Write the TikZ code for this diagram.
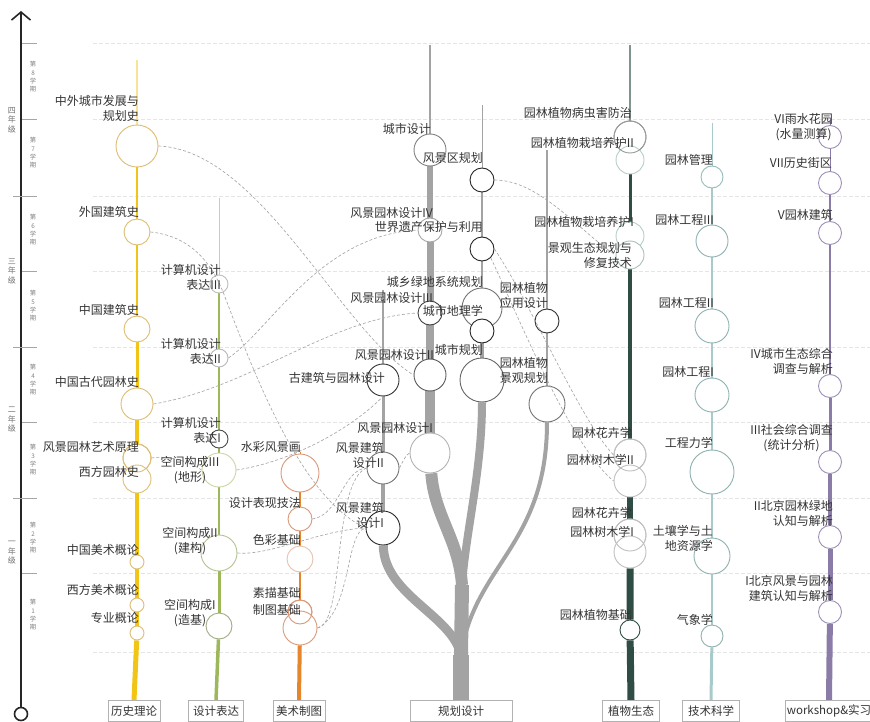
\documentclass[tikz,border=0pt]{standalone}
\usepackage{fontspec}
\setmainfont{Noto Sans CJK SC}
\usetikzlibrary{arrows.meta,backgrounds}

\definecolor{txt}{HTML}{333333}
\definecolor{lsline}{HTML}{F2C416}
\definecolor{lscirc}{HTML}{DDBE72}
\definecolor{sjline}{HTML}{9DB85A}
\definecolor{sjcirc}{HTML}{C9D7A2}
\definecolor{msline}{HTML}{E5862C}
\definecolor{mscirc}{HTML}{D99878}
\definecolor{ghline}{HTML}{A3A3A3}
\definecolor{zwline}{HTML}{2F4D45}
\definecolor{zwcirc}{HTML}{B4CFC8}
\definecolor{jsline}{HTML}{A9CACA}
\definecolor{jscirc}{HTML}{93BDBD}
\definecolor{wsline}{HTML}{8A7CA6}
\definecolor{wscirc}{HTML}{9D90B8}

\begin{document}
\begin{tikzpicture}[x=1pt,y=-1pt,
  ccl/.style={circle,fill=white,inner sep=0pt,line width=0.9pt,minimum size=#1},
  lab/.style={anchor=east,align=right,inner sep=0pt,text=txt,font=\fontsize{12}{15}\selectfont},
  catbox/.style={draw=gray!60,fill=white,inner sep=2pt,minimum height=21pt,text=txt,font=\fontsize{11.5}{13}\selectfont},
  link/.style={draw=gray!70,dash pattern=on 3pt off 2pt,line width=0.65pt},
  gridln/.style={draw=gray!20,dash pattern=on 4pt off 2pt,line width=0.7pt},
  tick/.style={draw=gray!70,line width=0.8pt},
  sem/.style={text=gray,align=center,inner sep=0pt,font=\fontsize{6.3}{8.3}\selectfont},
  yr/.style={text=gray!90!black,align=center,inner sep=0pt,font=\fontsize{8}{9.5}\selectfont},
  ystem/.style={draw=lsline},gstem/.style={draw=sjline},ostem/.style={draw=msline},
  hstem/.style={draw=ghline},zstem/.style={draw=zwline},tstem/.style={draw=jsline},
  pstem/.style={draw=wsline}]
\useasboundingbox (0,0) rectangle (870,722);

% time axis
\node[circle,draw=black!85,line width=1.6pt,minimum size=13pt,inner sep=0pt] (axisbot) at (21,714) {};
\coordinate (axistop) at (21,11);
\draw[black!85,line width=1.6pt,-{Straight Barb[length=8pt,width=19pt]}] (axisbot) -- (axistop);
\foreach \ty in {43,119,271,422,573} \draw[tick] (22,\ty) -- (37,\ty);
\foreach \ty in {196,347,498} \draw[tick] (13,\ty) -- (37,\ty);
\node[yr] (y4) at (12,120) {四\\年\\级};
\node[yr] (y3) at (12,271) {三\\年\\级};
\node[yr] (y2) at (12,420) {二\\年\\级};
\node[yr] (y1) at (12,553) {一\\年\\级};
\node[sem] (s8) at (33,77) {第\\8\\学\\期};
\node[sem] (s7) at (33,153) {第\\7\\学\\期};
\node[sem] (s6) at (33,230) {第\\6\\学\\期};
\node[sem] (s5) at (33,306) {第\\5\\学\\期};
\node[sem] (s4) at (33,380) {第\\4\\学\\期};
\node[sem] (s3) at (33,460) {第\\3\\学\\期};
\node[sem] (s2) at (33,538) {第\\2\\学\\期};
\node[sem] (s1) at (33,615) {第\\1\\学\\期};

% category boxes
\node[catbox,minimum width=52pt] (bxls) at (134,711) {历史理论};
\node[catbox,minimum width=55pt] (bxsj) at (216,711) {设计表达};
\node[catbox,minimum width=52pt] (bxms) at (299,711) {美术制图};
\node[catbox,minimum width=102pt] (bxgh) at (461,711) {规划设计};
\node[catbox,minimum width=57pt] (bxzw) at (631,711) {植物生态};
\node[catbox,minimum width=57pt] (bxjs) at (711,711) {技术科学};
\node[catbox,minimum width=86pt] (bxws) at (829,711) {workshop\&实习};

% history
\node[ccl=42,draw=lscirc] (zhongwai) at (137,146) {};
\node[ccl=26,draw=lscirc] (waiguo) at (137,232) {};
\node[ccl=26,draw=lscirc] (zgjz) at (137,329) {};
\node[ccl=32,draw=lscirc] (gudai) at (137,404) {};
\node[ccl=28,draw=lscirc] (yishu) at (137,458) {};
\node[ccl=28,draw=lscirc] (xifang) at (137,479) {};
\node[ccl=14,draw=lscirc] (zgms) at (137,562) {};
\node[ccl=14,draw=lscirc] (xfms) at (137,605) {};
\node[ccl=14,draw=lscirc] (zylun) at (137,633) {};
\draw[lscirc,line width=0.9pt] (yishu) circle[radius=14pt];

% design expression
\node[ccl=18,draw=gray!50] (bd3) at (219,284) {};
\node[ccl=18,draw=gray!55] (bd2) at (219,358) {};
\node[ccl=18,draw=black!70] (bd1) at (219,439) {};
\node[ccl=34,draw=sjcirc] (kj3) at (219,470) {};
\node[ccl=36,draw=sjcirc!90!black] (kj2) at (219,553) {};
\node[ccl=26,draw=sjcirc!80!black] (kj1) at (219,626) {};

% art and drawing
\node[ccl=38,draw=mscirc] (shuicai) at (300,473) {};
\node[ccl=24,draw=mscirc] (jifa) at (300,519) {};
\node[ccl=26,draw=mscirc!60] (secai) at (300,559) {};
\node[ccl=24,draw=mscirc] (sumiao) at (300,612) {};
\node[ccl=34,draw=mscirc] (zhitu) at (300,628) {};
\draw[mscirc,line width=0.9pt] (sumiao) circle[radius=12pt];

% planning and design
\node[ccl=32,draw=black!50] (csds) at (430,150) {};
\node[ccl=24,draw=black!85] (fjq) at (482,180) {};
\node[ccl=24,draw=black!35] (fyyl4) at (430,230) {};
\node[ccl=24,draw=black!85] (shijie) at (482,249) {};
\node[ccl=40,draw=black!55] (lvdi) at (482,308) {};
\node[ccl=24,draw=black!75] (fyyl3) at (430,313) {};
\node[ccl=24,draw=black!85] (dili) at (482,331) {};
\node[ccl=32,draw=black!65] (fyyl2) at (430,375) {};
\node[ccl=44,draw=black!60] (csgh) at (482,380) {};
\node[ccl=24,draw=black!80] (yyds) at (547,321) {};
\node[ccl=36,draw=black!55] (jggh) at (547,404) {};
\node[ccl=32,draw=black!80] (gjz) at (383,380) {};
\node[ccl=40,draw=black!30] (fyyl1) at (430,453) {};
\node[ccl=32,draw=black!55] (fjjz2) at (383,468) {};
\node[ccl=34,draw=black!85] (fjjz1) at (383,528) {};

% plants and ecology
\node[ccl=32,draw=black!40] (bch) at (630,137) {};
\node[ccl=28,draw=zwcirc] (zp2) at (630,160) {};
\node[ccl=28,draw=zwcirc] (zp1) at (630,236) {};
\node[ccl=28,draw=zwcirc!80!gray] (jgst) at (630,255) {};
\node[ccl=32,draw=gray!50] (hh2) at (630,455) {};
\node[ccl=32,draw=gray!50] (sm2) at (630,481) {};
\node[ccl=32,draw=gray!50] (hh1) at (630,535) {};
\node[ccl=32,draw=gray!50] (sm1) at (630,552) {};
\node[ccl=20,draw=zwline] (zwjc) at (630,630) {};
\draw[black!40,line width=0.9pt] (bch) circle[radius=16pt];
\draw[gray!50,line width=0.9pt] (hh2) circle[radius=16pt];
\draw[gray!50,line width=0.9pt] (hh1) circle[radius=16pt];

% technology
\node[ccl=22,draw=jscirc] (gl) at (712,177) {};
\node[ccl=32,draw=jscirc!80!gray] (gc3) at (712,241) {};
\node[ccl=34,draw=jscirc!80!gray] (gc2) at (712,326) {};
\node[ccl=34,draw=jscirc!80!gray] (gc1) at (712,395) {};
\node[ccl=44,draw=jscirc!80!gray] (lx) at (712,472) {};
\node[ccl=36,draw=jscirc!80!gray] (tr) at (712,556) {};
\node[ccl=22,draw=jscirc!80!gray] (qx) at (712,636) {};

% workshop
\node[ccl=23,draw=wscirc] (w6) at (830,137) {};
\node[ccl=23,draw=wscirc] (w7) at (830,183) {};
\node[ccl=23,draw=wscirc] (w5) at (830,233) {};
\node[ccl=23,draw=wscirc] (w4) at (830,386) {};
\node[ccl=23,draw=wscirc] (w3) at (830,462) {};
\node[ccl=23,draw=wscirc] (w2) at (830,537) {};
\node[ccl=23,draw=wscirc] (w1) at (830,612) {};

\begin{scope}[on background layer]
  \foreach \gy in {43,119,196,271,347,422,498,573,652}
    \draw[gridln] (93,\gy) -- (870,\gy);
  % stems
  \coordinate (ytop) at (137,60);
  \draw[ystem,line width=1.2pt,draw=lsline!45] (ytop) -- (zhongwai);
  \draw[ystem,line width=2pt] (zhongwai) -- (waiguo);
  \draw[ystem,line width=2.5pt] (waiguo) -- (zgjz);
  \draw[ystem,line width=3pt] (zgjz) -- (gudai);
  \draw[ystem,line width=3.5pt] (gudai) -- (yishu) -- (xifang);
  \draw[ystem,line width=4pt] (xifang) -- (zgms) -- (xfms) -- (zylun);
  \draw[ystem,line width=5pt] (zylun) -- (bxls.north);

  \coordinate (gtop) at (219,198);
  \draw[gstem,line width=0.8pt,draw=sjline!60] (gtop) -- (bd3);
  \draw[gstem,line width=1.1pt] (bd3) -- (bd2);
  \draw[gstem,line width=1.5pt] (bd2) -- (bd1) -- (kj3);
  \draw[gstem,line width=2.5pt] (kj3) -- (kj2);
  \draw[gstem,line width=3pt] (kj2) -- (kj1);
  \draw[gstem,line width=3.5pt] (kj1) -- (bxsj.north);

  \coordinate (otop) at (300,452);
  \draw[ostem,line width=1pt] (otop) -- (shuicai);
  \draw[ostem,line width=1.5pt] (shuicai) -- (jifa);
  \draw[ostem,line width=2pt] (jifa) -- (secai);
  \draw[ostem,line width=2.5pt] (secai) -- (sumiao);
  \draw[ostem,line width=4pt] (zhitu) -- (bxms.north);

  \coordinate (h430top) at (430,45);
  \draw[hstem,line width=1.5pt] (h430top) -- (csds);
  \draw[hstem,line width=6pt] (csds) -- (fyyl4);
  \draw[hstem,line width=7pt] (fyyl4) -- (fyyl3);
  \draw[hstem,line width=8pt] (fyyl3) -- (fyyl2);
  \draw[hstem,line width=10pt] (fyyl2) -- (fyyl1);
  \coordinate (h482top) at (482,105);
  \draw[hstem,line width=1pt] (h482top) -- (fjq);
  \draw[hstem,line width=1.5pt] (fjq) -- (shijie);
  \draw[hstem,line width=2pt] (shijie) -- (lvdi);
  \draw[hstem,line width=3pt] (lvdi) -- (dili);
  \draw[hstem,line width=3.5pt] (dili) -- (csgh);
  \coordinate (h383top) at (383,290);
  \draw[hstem,line width=1.3pt] (h383top) -- (gjz);
  \draw[hstem,line width=3pt] (gjz) -- (fjjz2);
  \draw[hstem,line width=4pt] (fjjz2) -- (fjjz1);
  \coordinate (h547top) at (547,150);
  \draw[hstem,line width=1.2pt] (h547top) -- (yyds);
  \draw[hstem,line width=2pt] (yyds) -- (jggh);
  % trunk and branches
  \coordinate (gsplit1) at (462,585);
  \coordinate (gsplit2) at (461,655);
  \draw[hstem,line width=16pt] (bxgh.north) -- (gsplit2);
  \draw[hstem,line width=14pt] (gsplit2) -- (gsplit1);
  \draw[hstem,line width=12pt] (fyyl1) .. controls (434,515) and (459,540) .. (gsplit1);
  \draw[hstem,line width=8pt] (csgh) .. controls (482,470) and (466,530) .. (gsplit1);
  \draw[hstem,line width=9pt] (fjjz1) .. controls (384,595) and (452,615) .. (gsplit2);
  \draw[hstem,line width=4pt] (jggh) .. controls (547,545) and (474,565) .. (gsplit2);

  \coordinate (ztop) at (630,45);
  \draw[zstem,line width=1.5pt,draw=zwline!60] (ztop) -- (bch);
  \draw[zstem,line width=3pt] (zp2) -- (zp1);
  \draw[zstem,line width=3.5pt] (jgst) -- (hh2);
  \draw[zstem,line width=6pt] (sm2) -- (hh1);
  \draw[zstem,line width=7pt] (sm1) -- (zwjc) -- (bxzw.north);

  \coordinate (ttop) at (712,123);
  \draw[tstem,line width=1pt] (ttop) -- (gl);
  \draw[tstem,line width=1.5pt] (gl) -- (gc3) -- (gc2);
  \draw[tstem,line width=2pt] (gc2) -- (gc1) -- (lx);
  \draw[tstem,line width=2.5pt] (lx) -- (tr) -- (qx);
  \draw[tstem,line width=3pt] (qx) -- (bxjs.north);

  \coordinate (ptop) at (830,118);
  \draw[pstem,line width=0.9pt] (ptop) -- (w6) -- (w7);
  \draw[pstem,line width=1.3pt] (w7) -- (w5);
  \draw[pstem,line width=1.8pt] (w5) -- (w4);
  \draw[pstem,line width=3pt] (w4) -- (w3);
  \draw[pstem,line width=4pt] (w3) -- (w2);
  \draw[pstem,line width=5pt] (w2) -- (w1);
  \draw[pstem,line width=6pt] (w1) -- (bxws.north);
\end{scope}

% dashed relations
\draw[link] (zhongwai.east) .. controls (260,150) and (340,330) .. (fyyl2.west);
\draw[link] (waiguo.east) .. controls (190,236) and (212,262) .. (225,297)
  .. controls (260,390) and (305,500) .. (fjjz1.west);
\draw[link] (gudai.east) .. controls (250,388) and (330,318) .. (fyyl3.west);
\draw[link] (bd2.east) .. controls (270,330) and (320,235) .. (fyyl4.west);
\draw[link] (kj3.east) .. controls (290,462) and (350,430) .. (gjz.south);
\draw[link] (yishu.east) .. controls (170,455) and (190,462) .. (kj3.west);
\draw[link] (kj2.east) .. controls (270,556) and (320,530) .. (fjjz1.west);
\draw[link] (jifa.east) .. controls (340,515) and (342,470) .. (fjjz2.west);
\draw[link] (zhitu.east) .. controls (345,625) and (332,482) .. (fjjz2.west);
\draw[link] (zhitu.east) .. controls (352,612) and (345,532) .. (fjjz1.west);
\draw[link] (fjjz2.east) .. controls (403,462) and (405,455) .. (fyyl1.west);
\draw[link] (fjq.east) .. controls (540,180) and (580,232) .. (jgst.west);
\draw[link] (shijie.south east) .. controls (520,320) and (570,445) .. (sm2.west);
\draw[link] (shijie.east) .. controls (532,305) and (580,420) .. (hh2.west);

% labels: history
\node[lab] (lzhongwai) at (139,108.5) {中外城市发展与\\规划史};
\node[lab] (lwaiguo) at (139,212) {外国建筑史};
\node[lab] (lzgjz) at (139,310) {中国建筑史};
\node[lab] (lgudai) at (139,382) {中国古代园林史};
\node[lab] (lyishu) at (139,447) {风景园林艺术原理};
\node[lab] (lxifang) at (139,472) {西方园林史};
\node[lab] (lzgms) at (139,550) {中国美术概论};
\node[lab] (lxfms) at (139,590) {西方美术概论};
\node[lab] (lzylun) at (139,618) {专业概论};
% labels: design expression
\node[lab] (lbd3) at (221,277) {计算机设计\\表达III};
\node[lab] (lbd2) at (221,351) {计算机设计\\表达II};
\node[lab] (lbd1) at (221,430) {计算机设计\\表达I};
\node[lab,align=center,anchor=center] (lkj3) at (190,470) {空间构成III\\(地形)};
\node[lab,align=center,anchor=center] (lkj2) at (190,541) {空间构成II\\(建构)};
\node[lab,align=center,anchor=center] (lkj1) at (190,613) {空间构成I\\(造基)};
% labels: art and drawing
\node[lab] (lshuicai) at (301,447) {水彩风景画};
\node[lab] (ljifa) at (301,503) {设计表现技法};
\node[lab] (lsecai) at (301,540) {色彩基础};
\node[lab] (lsumiao) at (301,593) {素描基础};
\node[lab] (lzhitu) at (301,610) {制图基础};
% labels: planning and design
\node[lab] (lcsds) at (431,129) {城市设计};
\node[lab] (lfjq) at (483,158) {风景区规划};
\node[lab] (lfyyl4) at (433,213) {风景园林设计IV};
\node[lab] (lshijie) at (483,227) {世界遗产保护与利用};
\node[lab] (llvdi) at (483,282) {城乡绿地系统规划};
\node[lab] (lfyyl3) at (433,298) {风景园林设计III};
\node[lab] (ldili) at (483,311) {城市地理学};
\node[lab] (lfyyl2) at (434,355) {风景园林设计II};
\node[lab] (lcsgh) at (483,350) {城市规划};
\node[lab] (lyyds) at (548,295) {园林植物\\应用设计};
\node[lab] (ljggh) at (548,370) {园林植物\\景观规划};
\node[lab] (lgjz) at (385,378) {古建筑与园林设计};
\node[lab] (lfyyl1) at (433,428) {风景园林设计I};
\node[lab] (lfjjz2) at (384,455) {风景建筑\\设计II};
\node[lab] (lfjjz1) at (384,515) {风景建筑\\设计I};
% labels: plants and ecology
\node[lab] (lbch) at (632,113) {园林植物病虫害防治};
\node[lab] (lzp2) at (634,143) {园林植物栽培养护II};
\node[lab] (lzp1) at (634,222) {园林植物栽培养护I};
\node[lab] (ljgst) at (632,255.5) {景观生态规划与\\修复技术};
\node[lab] (lhh2) at (632,433) {园林花卉学};
\node[lab] (lsm2) at (634,460) {园林树木学II};
\node[lab] (lhh1) at (632,513) {园林花卉学};
\node[lab] (lsm1) at (634,532) {园林树木学I};
\node[lab] (lzwjc) at (632,615) {园林植物基础};
% labels: technology
\node[lab] (lgl) at (713,160) {园林管理};
\node[lab] (lgc3) at (714,220) {园林工程III};
\node[lab] (lgc2) at (714,303) {园林工程II};
\node[lab] (lgc1) at (714,372) {园林工程I};
\node[lab] (llx) at (713,443) {工程力学};
\node[lab] (ltr) at (713,538.5) {土壤学与土\\地资源学};
\node[lab] (lqx) at (713,620) {气象学};
% labels: workshop
\node[lab,align=center] (lw6) at (833,127.5) {VI雨水花园\\(水量测算)};
\node[lab] (lw7) at (832,163) {VII历史街区};
\node[lab] (lw5) at (833,215) {V园林建筑};
\node[lab] (lw4) at (833,361.5) {IV城市生态综合\\调查与解析};
\node[lab,align=center] (lw3) at (833,438.5) {III社会综合调查\\(统计分析)};
\node[lab] (lw2) at (833,513) {II北京园林绿地\\认知与解析};
\node[lab] (lw1) at (833,588.5) {I北京风景与园林\\建筑认知与解析};
\end{tikzpicture}
\end{document}
